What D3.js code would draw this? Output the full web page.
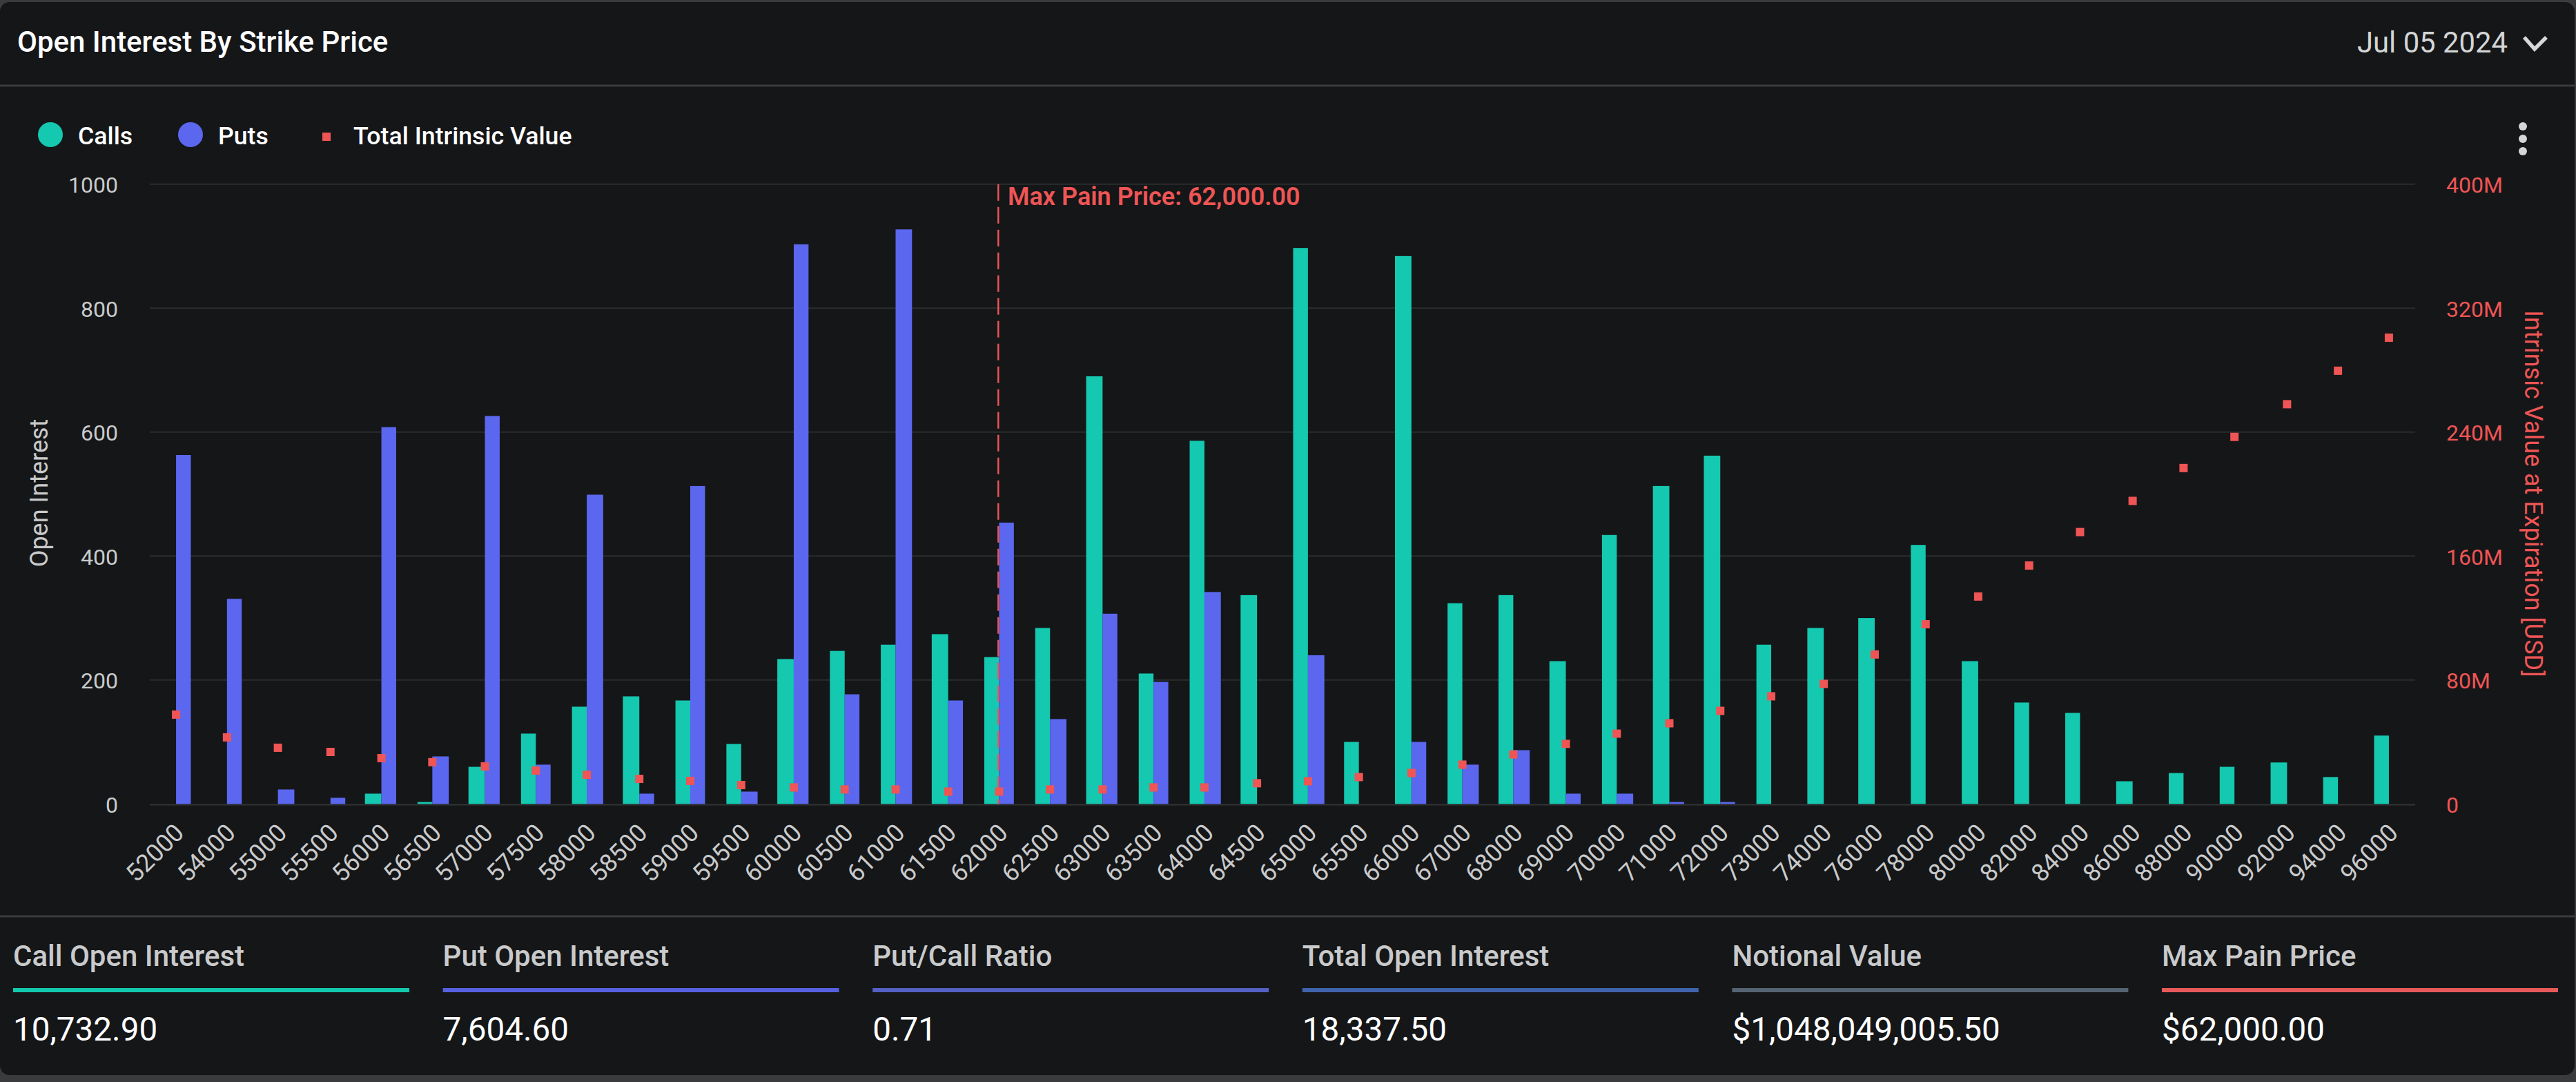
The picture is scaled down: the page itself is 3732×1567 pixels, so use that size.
<!DOCTYPE html>
<html><head><meta charset="utf-8">
<script src="https://cdnjs.cloudflare.com/ajax/libs/d3/7.8.5/d3.min.js"></script>
<style>html,body{margin:0;padding:0;background:#3a3b3d;overflow:hidden}svg{display:block}text{font-family:Roboto,sans-serif}</style>
</head><body><svg id="c" width="3732" height="1567"></svg>
<script>
const strikes=[52000,54000,55000,55500,56000,56500,57000,57500,58000,58500,59000,59500,60000,60500,61000,61500,62000,62500,63000,63500,64000,64500,65000,65500,66000,67000,68000,69000,70000,71000,72000,73000,74000,76000,78000,80000,82000,84000,86000,88000,90000,92000,94000,96000];
const calls=[0,0,0,0,16.7,3.3,60,113.6,157,173.7,167,96.9,233.9,247,257,274,237,284,690,210.5,586,337,897,100.2,884,324,337,230.5,434,513,562,257,284,300,418,230.5,163.7,147,36.7,50,60,67,43.5,110.4];
const puts=[563,331,23.4,10,608,76.8,626,63.5,499,16.7,513,20,903,177,927,167,454,137,307,197,342,0,240,0,100.2,63.5,86.9,16.7,16.7,3.3,3.3,0,0,0,0,0,0,0,0,0,0,0,0,0];
const intrinsic=[57.7,43,36.3,33.6,29.6,27,24.3,21.6,18.9,16.2,14.9,12.2,10.7,9.4,9.4,8,8,9.4,9.4,10.7,10.7,13.4,14.7,17.4,20,25.4,32,38.8,45.4,52.1,60.1,69.5,77.5,96.5,116,133.9,153.9,175.5,195.6,216.8,236.9,258,279.6,300.9];
const leftTicks=[0,200,400,600,800,1000];
const rightTicks=[0,80,160,240,320,400];
const maxPainStrike=62000;
const statLabels=["Call Open Interest","Put Open Interest","Put/Call Ratio","Total Open Interest","Notional Value","Max Pain Price"];
const statValues=["10,732.90","7,604.60","0.71","18,337.50","$1,048,049,005.50","$62,000.00"];
const statColors=["#12c9ae","#5660e0","#5560c4","#3f64ad","#556473","#e85a5a"];
const GREEN="#14c9b0",BLUE="#5b67ee",RED="#ef5555",AX="#c9cacb";

const svg=d3.select("#c");
const panel=d3.path();{const r=14,W=3730,T=3,B=1557;panel.moveTo(r,T);panel.lineTo(W-r,T);panel.arcTo(W,T,W,T+r,r);panel.lineTo(W,B-r);panel.arcTo(W,B,W-r,B,r);panel.lineTo(r,B);panel.arcTo(0,B,0,B-r,r);panel.lineTo(0,T+r);panel.arcTo(0,T,r,T,r);panel.closePath();}
svg.append("path").attr("fill","#151618").attr("d",panel.toString());
[[124,3730],[1327,3730]].forEach(([y,w])=>svg.append("line").attr("x1",0).attr("x2",w).attr("y1",y).attr("y2",y).attr("stroke","#3a3b3d").attr("stroke-width",3));

const txt=(x,y,s,size,fill,weight,anchor)=>svg.append("text").attr("x",x).attr("y",y).attr("font-size",size).attr("fill",fill).attr("font-weight",weight||400).attr("text-anchor",anchor||"start").text(s);
txt(25,75,"Open Interest By Strike Price",42,"#ffffff",500);
txt(3415,76,"Jul 05 2024",41.8,"#d4d5d6",400);
svg.append("path").attr("d",d3.line()([[3657,54],[3672,71],[3689,54]])).attr("fill","none").attr("stroke","#d8d8d8").attr("stroke-width",5.5);
[183,201,219].forEach(y=>svg.append("circle").attr("cx",3655).attr("cy",y).attr("r",6).attr("fill","#d4d5d6"));

svg.append("circle").attr("cx",73).attr("cy",195).attr("r",18).attr("fill",GREEN);
svg.append("circle").attr("cx",276).attr("cy",195).attr("r",18).attr("fill",BLUE);
svg.append("rect").attr("x",467).attr("y",192).attr("width",12).attr("height",12).attr("fill",RED);
txt(113,209,"Calls",35.7,"#ffffff",500);
txt(316,209,"Puts",35.7,"#ffffff",500);
txt(512,209,"Total Intrinsic Value",35.7,"#ffffff",500);

const plotTop=266.7,base=1164.4,gL=217,gR=3499;
const x=d3.scaleBand().domain(strikes).range([216.2,3498.6]);
const yL=d3.scaleLinear().domain([0,1000]).range([base,plotTop]);
const yR=d3.scaleLinear().domain([0,400]).range([base,plotTop]);
const g=svg.append("g");
g.selectAll(".grid").data(leftTicks.slice(1)).join("line").attr("x1",gL).attr("x2",gR).attr("y1",d=>yL(d)).attr("y2",d=>yL(d)).attr("stroke","#2b2c2e").attr("stroke-width",2);

const cx=d=>x(d)+x.bandwidth()/2;
const px=2.38,hw=22.4,snap=v=>Math.round(v/px)*px+0.4;
const rows=strikes.map((s,i)=>({s,call:calls[i],put:puts[i],iv:intrinsic[i]}));
g.selectAll(".call").data(rows.filter(d=>d.call>0)).join("rect").attr("fill",GREEN)
 .attr("x",d=>snap(cx(d.s)-hw)).attr("width",d=>snap(cx(d.s))-snap(cx(d.s)-hw)).attr("y",d=>yL(d.call)).attr("height",d=>base-yL(d.call));
g.selectAll(".put").data(rows.filter(d=>d.put>0)).join("rect").attr("fill",BLUE)
 .attr("x",d=>snap(cx(d.s))).attr("width",d=>snap(cx(d.s)+hw)-snap(cx(d.s))).attr("y",d=>yL(d.put)).attr("height",d=>base-yL(d.put));
g.append("line").attr("x1",gL).attr("x2",gR).attr("y1",base+1).attr("y2",base+1).attr("stroke","#333436").attr("stroke-width",2);

const mx=cx(maxPainStrike)-0.8;
g.append("line").attr("x1",mx).attr("x2",mx).attr("y1",plotTop).attr("y2",base).attr("stroke",RED).attr("stroke-width",2.4).attr("stroke-dasharray","24 9");
g.selectAll(".iv").data(rows).join("rect").attr("fill",RED).attr("width",12).attr("height",12)
 .attr("x",d=>snap(cx(d.s))-6).attr("y",d=>yR(d.iv)-6);
txt(1460,297,"Max Pain Price: 62,000.00",36,RED,600);

// axes through d3-axis
const axL=svg.append("g").attr("transform",`translate(171,0)`).call(d3.axisLeft(yL).tickValues(leftTicks).tickFormat(d3.format("d")).tickSize(0).tickPadding(0));
axL.select(".domain").remove();
axL.selectAll("text").attr("font-size",32).attr("font-family","Roboto").attr("fill",AX).attr("dy",".67em").attr("y",-9.5);
const axR=svg.append("g").attr("transform",`translate(3544,0)`).call(d3.axisRight(yR).tickValues(rightTicks).tickFormat(d=>d===0?"0":d+"M").tickSize(0).tickPadding(0));
axR.select(".domain").remove();
axR.selectAll("text").attr("font-size",32).attr("font-family","Roboto").attr("fill",RED).attr("dy",".67em").attr("y",-9.5);
const axB=svg.append("g").attr("transform",`translate(0,${base})`).call(d3.axisBottom(x).tickSize(0).tickPadding(0));
axB.select(".domain").remove();
axB.selectAll("text").attr("font-size",35.7).attr("font-family","Roboto").attr("fill",AX).attr("text-anchor","end").attr("dy",0).attr("y",0)
 .attr("transform","translate(15,44) rotate(-45)");
svg.append("text").attr("transform","translate(69,714) rotate(-90)").attr("text-anchor","middle").attr("font-size",36).attr("fill",AX).text("Open Interest");
svg.append("text").attr("transform","translate(3658,715) rotate(90)").attr("text-anchor","middle").attr("font-size",36).attr("fill",RED).text("Intrinsic Value at Expiration [USD]");

// stats
const cols=d3.scaleLinear().domain([0,5]).range([19,3132]);
statLabels.forEach((l,i)=>{
  const X=cols(i);
  txt(X,1399,l,42,"#c9cacb",500);
  svg.append("rect").attr("x",X).attr("y",1431).attr("width",574).attr("height",6).attr("fill",statColors[i]);
  txt(X,1507,statValues[i],47.6,"#ffffff",400);
});
</script></body></html>
